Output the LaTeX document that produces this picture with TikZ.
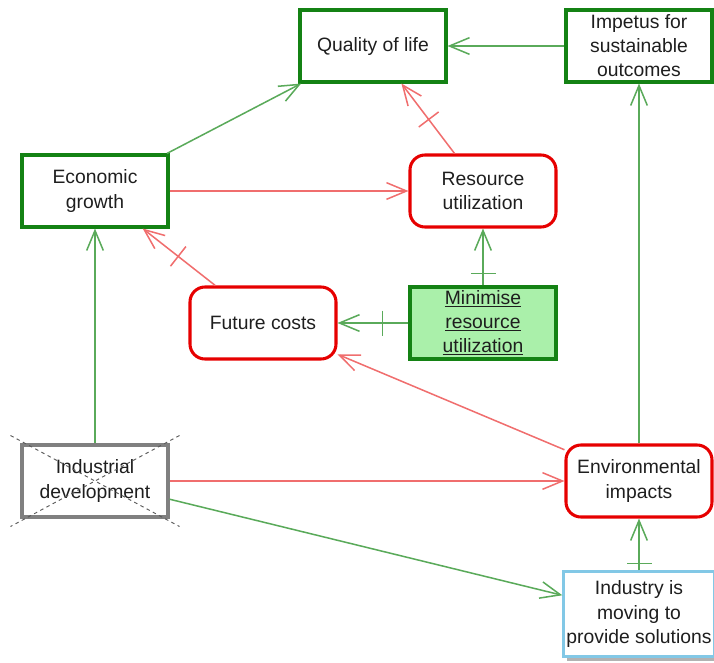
\documentclass[tikz,border=0pt]{standalone}
\usepackage{fontspec}
\setmainfont{Liberation Sans}
\usetikzlibrary{arrows.meta,decorations.markings,shadows}

\definecolor{boxgreen}{RGB}{20,130,20}
\definecolor{linkgreen}{RGB}{90,170,90}
\definecolor{boxred}{RGB}{230,0,0}
\definecolor{linkred}{RGB}{240,110,110}
\definecolor{fillgreen}{RGB}{170,240,170}
\definecolor{boxblue}{RGB}{130,200,230}
\definecolor{boxgray}{RGB}{128,128,128}
\definecolor{txt}{RGB}{30,30,30}

\tikzset{
  factor/.style={shape=rectangle, align=center, text=txt, line width=2.6pt,
    minimum width=4.38cm, minimum height=2.16cm, inner sep=2pt,
    font=\fontsize{16.5}{20.5}\selectfont},
  goodbox/.style={factor, draw=boxgreen},
  badbox/.style={factor, draw=boxred, rounded corners=0.45cm},
  pluslink/.style={linkgreen, line width=1.3pt, -{Straight Barb[length=0.6cm,width=0.5cm,line width=1.3pt]}},
  minuslink/.style={linkred, line width=1.3pt, -{Straight Barb[length=0.6cm,width=0.5cm,line width=1.3pt]}},
  delaybar/.style={postaction={decorate, decoration={markings,
    mark=at position -1.35cm with {\draw[#1, line width=1.3pt, -] (0,-0.375cm) -- (0,0.375cm);}}}},
}

\begin{document}
\begin{tikzpicture}[x=0.03cm, y=-0.03cm]
    \useasboundingbox (0,0) rectangle (714,663);

    \node[goodbox] (qol) at (373, 46) {Quality of life};
    \node[goodbox] (impetus) at (639, 46) {Impetus for\\sustainable\\outcomes};
    \node[goodbox] (growth) at (95, 191) {Economic\\growth};
    \node[badbox] (resource) at (483, 191) {Resource\\utilization};
    \node[badbox] (costs) at (263, 323) {Future costs};
    \node[goodbox, fill=fillgreen] (minimise) at (483, 323)
        {\underline{Minimise}\\\underline{resource}\\\underline{utilization}};
    \node[factor, draw=boxgray] (industrial) at (95, 481) {Industrial\\development};
    \node[badbox] (impacts) at (639, 481) {Environmental\\impacts};
    \node[factor, draw=boxblue, fill=white, line width=2pt, minimum width=4.53cm, minimum height=2.55cm,
          drop shadow={shadow xshift=0.12cm, shadow yshift=-0.12cm, fill=gray!60, opacity=1}]
        (solutions) at (639, 614) {Industry is\\moving to\\provide solutions};

    % crossed out factor
    \draw[boxgray!70!black, dashed, line width=0.8pt]
        ([shift={(-10,-8)}]industrial.north west) -- ([shift={(10,8)}]industrial.south east);
    \draw[boxgray!70!black, dashed, line width=0.8pt]
        ([shift={(10,-8)}]industrial.north east) -- ([shift={(-10,8)}]industrial.south west);

    \path [pluslink] (growth) edge (qol);
    \path [pluslink] (impetus) edge (qol);
    \path [minuslink] (resource) edge [delaybar=linkred] (qol);
    \path [minuslink] (growth) edge (resource);
    \path [minuslink] (costs) edge [delaybar=linkred] (growth);
    \path [pluslink] (minimise) edge [delaybar=linkgreen] (resource);
    \path [pluslink] (minimise) edge [delaybar=linkgreen] (costs);
    \path [minuslink] (impacts) edge (costs);
    \path [pluslink] (industrial) edge (growth);
    \path [minuslink] (industrial) edge (impacts);
    \path [pluslink] (industrial) edge (solutions);
    \path [pluslink] (impacts) edge (impetus);
    \path [pluslink] (solutions) edge [delaybar=linkgreen] (impacts);
\end{tikzpicture}
\end{document}
